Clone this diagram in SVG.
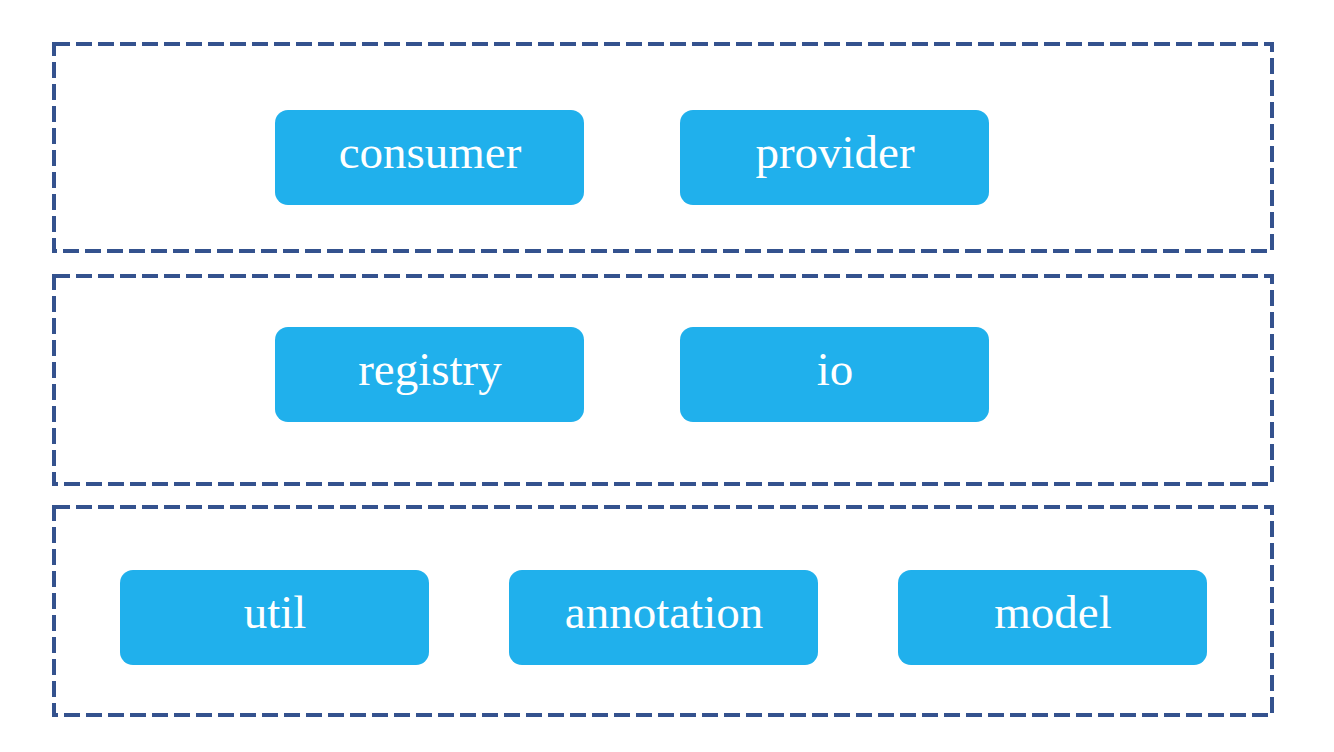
<svg xmlns="http://www.w3.org/2000/svg" width="1334" height="752" viewBox="0 0 1334 752">
<style>
.layer{fill:none;stroke:#34528e;stroke-width:4;stroke-dasharray:16 6}
.box{fill:#20b0ec}
.lbl{font-family:"Liberation Serif",serif;font-size:47px;fill:#ffffff;text-anchor:middle}
</style>
<rect width="1334" height="752" fill="#ffffff"/>
<g id="layers">
<rect class="layer" x="54" y="44" width="1218" height="207"/>
<rect class="layer" x="54" y="276" width="1218" height="208"/>
<rect class="layer" x="54" y="507" width="1218" height="208"/>
</g>
<g id="consumer"><rect class="box" x="275" y="110" width="309" height="95" rx="13"/><text class="lbl" x="430" y="168">consumer</text></g>
<g id="provider"><rect class="box" x="680" y="110" width="309" height="95" rx="13"/><text class="lbl" x="835" y="168">provider</text></g>
<g id="registry"><rect class="box" x="275" y="327" width="309" height="95" rx="13"/><text class="lbl" x="430" y="385">registry</text></g>
<g id="io"><rect class="box" x="680" y="327" width="309" height="95" rx="13"/><text class="lbl" x="835" y="385">io</text></g>
<g id="util"><rect class="box" x="120" y="570" width="309" height="95" rx="13"/><text class="lbl" x="275" y="628">util</text></g>
<g id="annotation"><rect class="box" x="509" y="570" width="309" height="95" rx="13"/><text class="lbl" x="664" y="628">annotation</text></g>
<g id="model"><rect class="box" x="898" y="570" width="309" height="95" rx="13"/><text class="lbl" x="1053" y="628">model</text></g>
<g id="connectors"></g>
</svg>
